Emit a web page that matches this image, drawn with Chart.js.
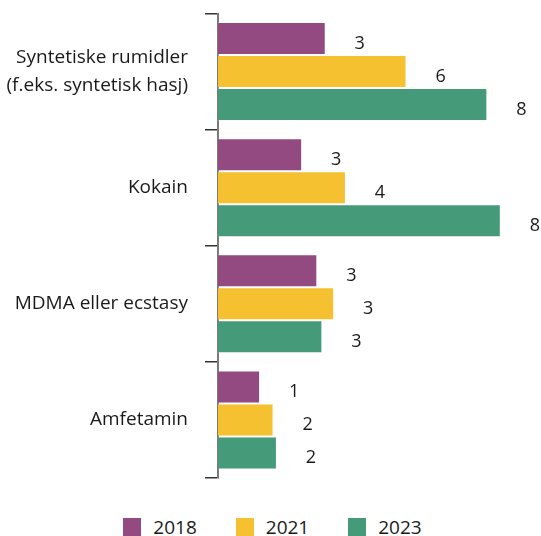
<!DOCTYPE html>
<html>
<head>
<meta charset="utf-8">
<script src="https://cdn.jsdelivr.net/npm/chart.js@4/dist/chart.umd.min.js"></script>
<style>
  body { margin: 0; background: #fff; }
  #wrap { position: relative; width: 541px; height: 536px; }
  #box { width: 541px; height: 490px; }
  #legend {
    position: absolute; top: 518px; left: 0; width: 541px; height: 18px;
    display: flex; justify-content: center; align-items: center; gap: 39px;
    padding-left: 4px; box-sizing: border-box;
    font-family: "Open Sans", sans-serif; font-size: 19px; color: #1a1a1a;
  }
  .item { display: flex; align-items: center; }
  .sq { width: 18px; height: 18px; margin-right: 12px; }
</style>
</head>
<body>
<div id="wrap">
  <div id="box"><canvas id="chart"></canvas></div>
  <div id="legend"></div>
</div>
<script>
const categories = [
      ['Syntetiske rumidler', '(f.eks. syntetisk hasj)'],
      'Kokain',
      'MDMA eller ecstasy',
      'Amfetamin'
];
const years = ['2018', '2021', '2023'];
const values2018 = [3.2, 2.5, 2.95, 1.25];
const values2021 = [5.6, 3.8, 3.45, 1.65];
const values2023 = [8.0, 8.4, 3.1, 1.75];
const colors = ['#924a80', '#f5c130', '#459a79'];

const font = '"Open Sans", sans-serif';

// value labels to the right of each bar
const barLabels = {
      id: 'barLabels',
      afterDatasetsDraw(chart) {
            const ctx = chart.ctx;
            ctx.save();
            ctx.font = '18px ' + font;
            ctx.fillStyle = '#1a1a1a';
            ctx.textAlign = 'center';
            ctx.textBaseline = 'middle';
            chart.data.datasets.forEach((ds, i) => {
                  chart.getDatasetMeta(i).data.forEach((bar, j) => {
                        ctx.fillText(Math.round(ds.data[j]), bar.x + 34, bar.y + 5);
                  });
            });
            ctx.restore();
      }
};

const allValues = [values2018, values2021, values2023];

const chart = new Chart(document.getElementById('chart'), {
      type: 'bar',
      data: {
            labels: categories,
            datasets: years.map((y, i) => ({
                  label: y,
                  data: allValues[i],
                  backgroundColor: colors[i],
                  borderColor: 'rgba(255,255,255,0.3)',
                  borderWidth: 1,
                  borderSkipped: 'left',
                  categoryPercentage: 0.853,
                  barPercentage: 1
            }))
      },
      options: {
            indexAxis: 'y',
            responsive: true,
            maintainAspectRatio: false,
            animation: false,
            layout: { padding: { top: 13.5, bottom: 12, left: 0, right: 20 } },
            scales: {
                  x: { display: false, min: 0, max: 9 },
                  y: {
                        afterFit: s => {
                              s.width = 218;
                              s.paddingTop = 0;
                              s.paddingBottom = 0;
                        },
                        offset: true,
                        border: { display: true, color: '#7a7a7a', width: 2 },
                        grid: {
                              offset: true,
                              drawOnChartArea: false,
                              tickLength: 13,
                              color: '#333',
                              lineWidth: 1.5
                        },
                        ticks: {
                              padding: 17,
                              color: '#1a1a1a',
                              font: { family: font, size: 19, lineHeight: 1.45 }
                        }
                  }
            },
            plugins: {
                  legend: { display: false },
                  tooltip: { enabled: false }
            }
      },
      plugins: [barLabels]
});

const legend = document.getElementById('legend');
chart.data.datasets.forEach(ds => {
      const item = document.createElement('div');
      item.className = 'item';
      item.innerHTML = '<span class="sq" style="background:' + ds.backgroundColor + '"></span>' + ds.label;
      legend.appendChild(item);
});
</script>
</body>
</html>
